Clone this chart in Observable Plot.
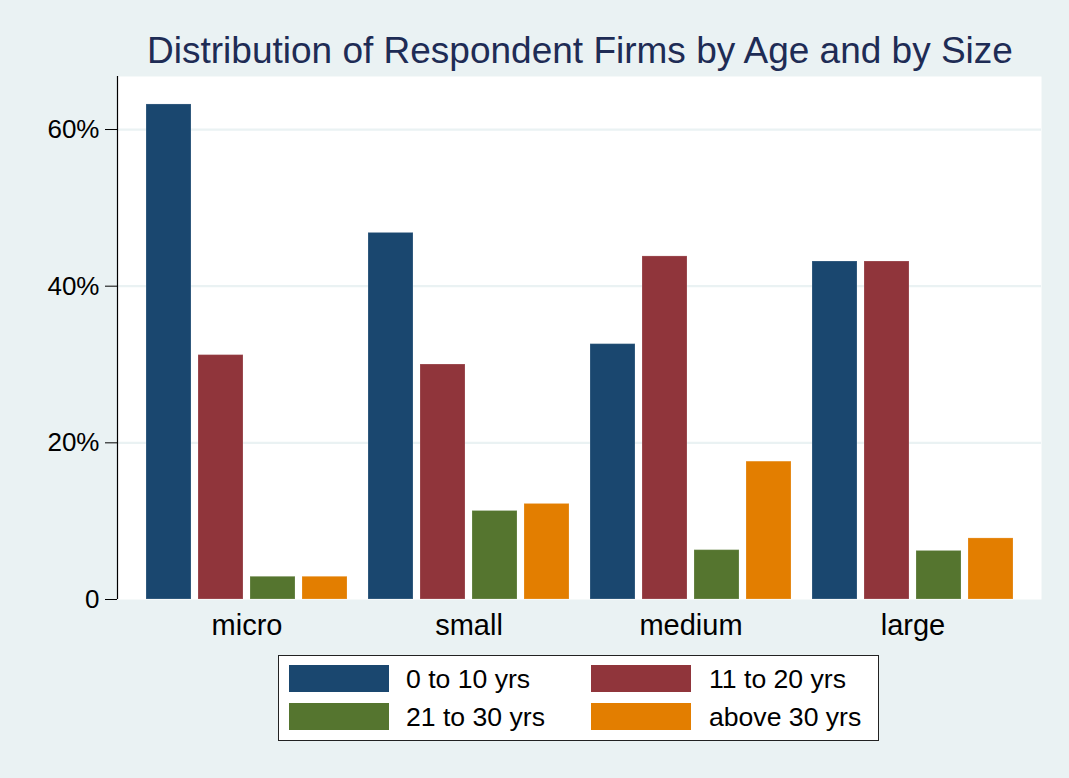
<!DOCTYPE html>
<html>
<head>
<meta charset="utf-8">
<script src="https://cdn.jsdelivr.net/npm/d3@7"></script>
<script src="https://cdn.jsdelivr.net/npm/@observablehq/plot@0.6"></script>
<style>
  html, body { margin: 0; padding: 0; background: #eaf2f3; overflow: hidden; }
  body { width: 1069px; height: 778px; position: relative; font-family: "Liberation Sans", Arial, Helvetica, sans-serif; }
  #title { position: absolute; left: 80px; width: 1000px; top: 32px; line-height: 37px; font-size: 37px; text-align: center; color: #1e2c55; white-space: nowrap; }
  .layer { position: absolute; left: 0; top: 0; }
  #legend { position: absolute; left: 278px; top: 655px; width: 599px; height: 84px; border: 1px solid #222; background: #fff; }
  .sw { position: absolute; width: 100px; height: 27px; box-sizing: border-box; }
  .lt { position: absolute; font-size: 26.6px; line-height: 26px; color: #000; white-space: nowrap; }
</style>
</head>
<body>
<div id="back" class="layer"></div>
<div id="front" class="layer"></div>
<div id="title"></div>
<div id="legend"></div>
<script>
// ---- data ----
const titleText = "Distribution of Respondent Firms by Age and by Size";
const sizes = ["micro", "small", "medium", "large"];
const ages = ["0 to 10 yrs", "11 to 20 yrs", "21 to 30 yrs", "above 30 yrs"];
const age0to10 = [63.2, 46.8, 32.6, 43.15];
const age11to20 = [31.2, 30.0, 43.8, 43.15];
const age21to30 = [2.9, 11.3, 6.3, 6.2];
const ageAbove30 = [2.9, 12.2, 17.6, 7.8];
const colors = ["#1a476f", "#90353b", "#55752f", "#e37e00"];
const yTicks = [0, 20, 40, 60];
const yTickLabels = ["0", "20%", "40%", "60%"];
const yMax = 66.77;

const series = [age0to10, age11to20, age21to30, ageAbove30];
const data = [];
sizes.forEach((s, i) => ages.forEach((a, j) => data.push({size: s, age: a, value: series[j][i]})));

const font = "'Liberation Sans', Arial, Helvetica, sans-serif";
const common = {
  width: 1069,
  height: 650,
  marginTop: 76,
  marginBottom: 51,
  marginLeft: 117,
  marginRight: 28,
  style: {background: "transparent", fontFamily: font, color: "#000", overflow: "visible"}
};

// background layer: white plot region, grid lines, y axis
const back = Plot.plot({
  ...common,
  x: {domain: [0, 1], axis: null},
  y: {domain: [0, yMax], axis: null},
  marks: [
    Plot.frame({fill: "white", stroke: "none"}),
    Plot.gridY(yTicks.filter(d => d > 0), {stroke: "#eaf2f3", strokeOpacity: 1, strokeWidth: 2.2}),
    Plot.axisY({ticks: yTicks, tickFormat: d => yTickLabels[yTicks.indexOf(d)], tickSize: 12, tickPadding: 6, fontSize: 26, label: null}),
    Plot.ruleX([0], {y1: 0, y2: yMax, stroke: "#000", strokeWidth: 1.2})
  ]
});

// front layer: grouped bars faceted by firm size
const front = Plot.plot({
  ...common,
  fx: {domain: sizes, paddingInner: 0.096, paddingOuter: 0.129, label: null},
  x: {domain: ages, paddingInner: 0.135, paddingOuter: 0, axis: null},
  y: {domain: [0, yMax], axis: null},
  color: {domain: ages, range: colors},
  marks: [
    Plot.barY(data, {fx: "size", x: "age", y: "value", fill: "age", stroke: "white", strokeOpacity: 0.2, strokeWidth: 1}),
    Plot.axisFx({anchor: "bottom", tickSize: 0, tickPadding: 15, fontSize: 29, label: null})
  ]
});

document.getElementById("back").appendChild(back);
document.getElementById("front").appendChild(front);
document.getElementById("title").textContent = titleText;

// legend
const legend = document.getElementById("legend");
const pos = [[10, 9, 127], [312, 9, 430], [10, 47, 127], [312, 47, 430]];
ages.forEach((a, j) => {
  const [sx, sy, tx] = pos[j];
  const sw = document.createElement("div");
  sw.className = "sw";
  sw.style.left = sx + "px"; sw.style.top = sy + "px";
  sw.style.background = colors[j];
  legend.appendChild(sw);
  const t = document.createElement("div");
  t.className = "lt";
  t.style.left = tx + "px"; t.style.top = (sy + 1) + "px";
  t.textContent = a;
  legend.appendChild(t);
});
</script>
</body>
</html>
